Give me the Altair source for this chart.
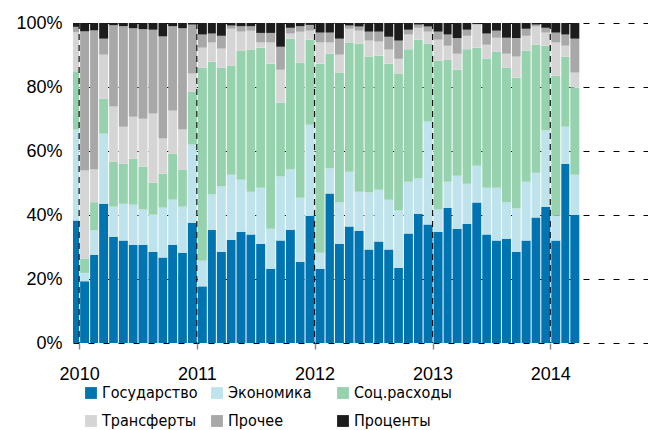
import altair as alt
import pandas as pd

series_names = ["Государство", "Экономика", "Соц.расходы", "Трансферты", "Прочее", "Проценты"]
colors = ["#0074B0", "#BEE3EC", "#97D2AE", "#D5D5D5", "#A8A8A8", "#1C1C1C"]

# months Dec 2009 .. Mar 2014
months = [d.strftime("%Y-%m-%d") for d in pd.date_range("2009-12-01", "2014-03-01", freq="MS")]

gov = [38.3, 19.3, 27.6, 43.5, 33.2, 32.0, 30.7, 30.7, 28.5, 26.7, 30.7, 28.2, 37.6,
       17.7, 35.4, 28.5, 32.3, 34.8, 33.9, 31.0, 23.2, 32.0, 35.4, 25.4, 39.8,
       23.2, 46.7, 31.0, 36.4, 35.1, 29.2, 31.7, 29.2, 23.5, 34.2, 40.4, 37.0,
       34.8, 42.3, 35.7, 37.3, 43.9, 33.9, 32.0, 32.6, 28.5, 32.0, 39.2, 42.6,
       32.0, 56.0, 40.1]
eco = [28.4, 2.6, 7.6, 21.9, 9.4, 11.5, 12.5, 11.0, 11.6, 15.6, 14.1, 14.4, 24.4,
       8.0, 11.0, 20.4, 20.3, 16.2, 13.4, 17.5, 12.5, 20.0, 18.8, 20.0, 28.4,
       5.0, 7.8, 12.9, 17.1, 12.2, 17.8, 16.2, 15.6, 17.9, 16.2, 11.0, 32.2,
       6.9, 8.1, 16.6, 12.5, 11.5, 14.6, 16.5, 11.3, 13.5, 18.4, 14.0, 23.8,
       7.8, 11.6, 12.5]
soc = [18.2, 4.5, 8.8, 11.0, 14.1, 12.5, 14.4, 13.4, 10.0, 10.6, 14.4, 11.6, 16.5,
       60.3, 41.5, 37.1, 34.1, 40.4, 44.4, 43.8, 51.6, 23.1, 40.9, 42.2, 26.6,
       59.1, 35.9, 40.6, 40.4, 46.2, 42.5, 41.9, 42.5, 42.8, 41.4, 43.4, 24.3,
       46.5, 38.1, 33.1, 42.0, 36.9, 40.4, 42.5, 42.1, 40.9, 41.0, 40.0, 26.5,
       43.7, 21.9, 27.2]
trans = [12.2, 27.5, 10.2, 13.7, 17.2, 11.6, 13.1, 15.0, 21.6, 11.0, 13.4, 12.5, 5.7,
         6.3, 6.0, 6.0, 11.5, 5.9, 5.9, 1.6, 6.6, 10.3, 1.6, 9.7, 2.8,
         6.6, 3.5, 5.6, 4.3, 4.1, 5.0, 4.4, 4.4, 4.6, 4.6, 3.7, 3.8,
         6.6, 4.4, 5.0, 4.2, 7.2, 4.3, 4.4, 4.4, 6.6, 4.6, 5.7, 4.1,
         10.4, 3.4, 4.7]
other = [1.7, 43.5, 43.5, 5.0, 25.4, 31.4, 27.7, 28.0, 26.2, 31.9, 26.4, 31.7, 15.3,
         4.1, 2.8, 4.0, 1.0, 1.7, 1.4, 3.0, 3.0, 7.2, 1.8, 1.7, 1.8,
         3.1, 3.1, 5.0, 1.0, 1.3, 2.8, 3.1, 4.0, 5.7, 1.5, 1.0, 1.6,
         2.5, 3.5, 4.9, 1.9, 0.2, 3.5, 2.2, 5.0, 5.8, 2.2, 0.6, 1.5,
         3.1, 3.5, 10.6]
interest = [1.2, 2.6, 2.3, 4.9, 0.7, 1.0, 1.6, 1.9, 2.1, 4.2, 1.0, 1.6, 0.5,
            3.6, 3.3, 4.0, 0.8, 1.0, 1.0, 3.1, 3.1, 7.4, 1.5, 1.0, 0.6,
            3.0, 3.0, 4.9, 0.8, 1.1, 2.7, 2.7, 4.3, 5.5, 2.1, 0.5, 1.1,
            2.7, 3.6, 4.7, 2.1, 0.3, 3.3, 2.4, 4.6, 4.7, 1.8, 0.5, 1.5,
            3.0, 3.6, 4.9]

year_ticks = [2010, 2011, 2012, 2013, 2014]

series_values = [gov, eco, soc, trans, other, interest]
rows = []
for i, m in enumerate(months):
    start = pd.Timestamp(m)
    end = start + pd.offsets.MonthBegin(1)
    for k, name in enumerate(series_names):
        rows.append({"start": start.strftime("%Y-%m-%d"), "end": end.strftime("%Y-%m-%d"),
                     "series": name, "idx": k, "value": series_values[k][i]})
df = pd.DataFrame(rows)

rules_df = pd.DataFrame({"date": [f"{y}-01-01" for y in year_ticks]})

xscale = alt.Scale(type="utc",
                   domain=[alt.DateTime(year=2009, month=12, date=13, utc=True),
                           alt.DateTime(year=2014, month=10, date=31, utc=True)])

legend_font = "Liberation Sans Narrow, DejaVu Sans Condensed, Liberation Sans, Arial"

bars = alt.Chart(df).transform_stack(
    stack="value", as_=["y0", "y1"], groupby=["start"],
    sort=[alt.SortField("idx", order="ascending")], offset="normalize"
).mark_bar(xOffset=1, clip=True, opacity=1).encode(
    x=alt.X("start:T", scale=xscale, title=None,
            axis=alt.Axis(values=[alt.DateTime(year=y, month=1, date=1, utc=True) for y in year_ticks],
                          format="%Y", formatType="utc", domain=False, grid=False,
                          tickColor="#8c8c8c", tickSize=6, tickWidth=1.5,
                          labelFontSize=18, labelPadding=16, labelColor="#000",
                          labelFont="Liberation Sans")),
    x2="end:T",
    y=alt.Y("y0:Q", title=None,
            scale=alt.Scale(domain=[0, 1], nice=False),
            axis=alt.Axis(format=".0%", values=[0, 0.2, 0.4, 0.6, 0.8, 1.0],
                          domain=False, ticks=False, grid=True,
                          gridDash=[6, 9], gridColor="#000", gridOpacity=1, gridWidth=1,
                          labelFontSize=18, labelPadding=11, labelColor="#000",
                          labelFont="Liberation Sans")),
    y2="y1:Q",
    color=alt.Color("series:N", scale=alt.Scale(domain=series_names, range=colors),
                    legend=alt.Legend(title=None, orient="none", legendX=10, legendY=362,
                                      direction="horizontal", columns=3,
                                      symbolType="square", symbolSize=140,
                                      symbolOpacity=1, symbolStrokeWidth=0,
                                      labelFontSize=16, labelFont=legend_font,
                                      labelColor="#000", labelOffset=3,
                                      columnPadding=9, rowPadding=12,
                                      gridAlign="all", padding=0, labelLimit=300)),
)

rules = alt.Chart(rules_df).mark_rule(color="#111", strokeWidth=1.2, strokeDash=[6, 5]).encode(
    x=alt.X("date:T", scale=xscale, title=None)
)

chart = alt.layer(bars, rules).properties(
    width=575, height=320,
    autosize=alt.AutoSizeParams(type="none"),
    padding={"left": 65, "top": 15, "right": 0, "bottom": 87},
).configure_view(stroke=None)

chart.save("out.html", embed_options={"renderer": "svg", "actions": False})
